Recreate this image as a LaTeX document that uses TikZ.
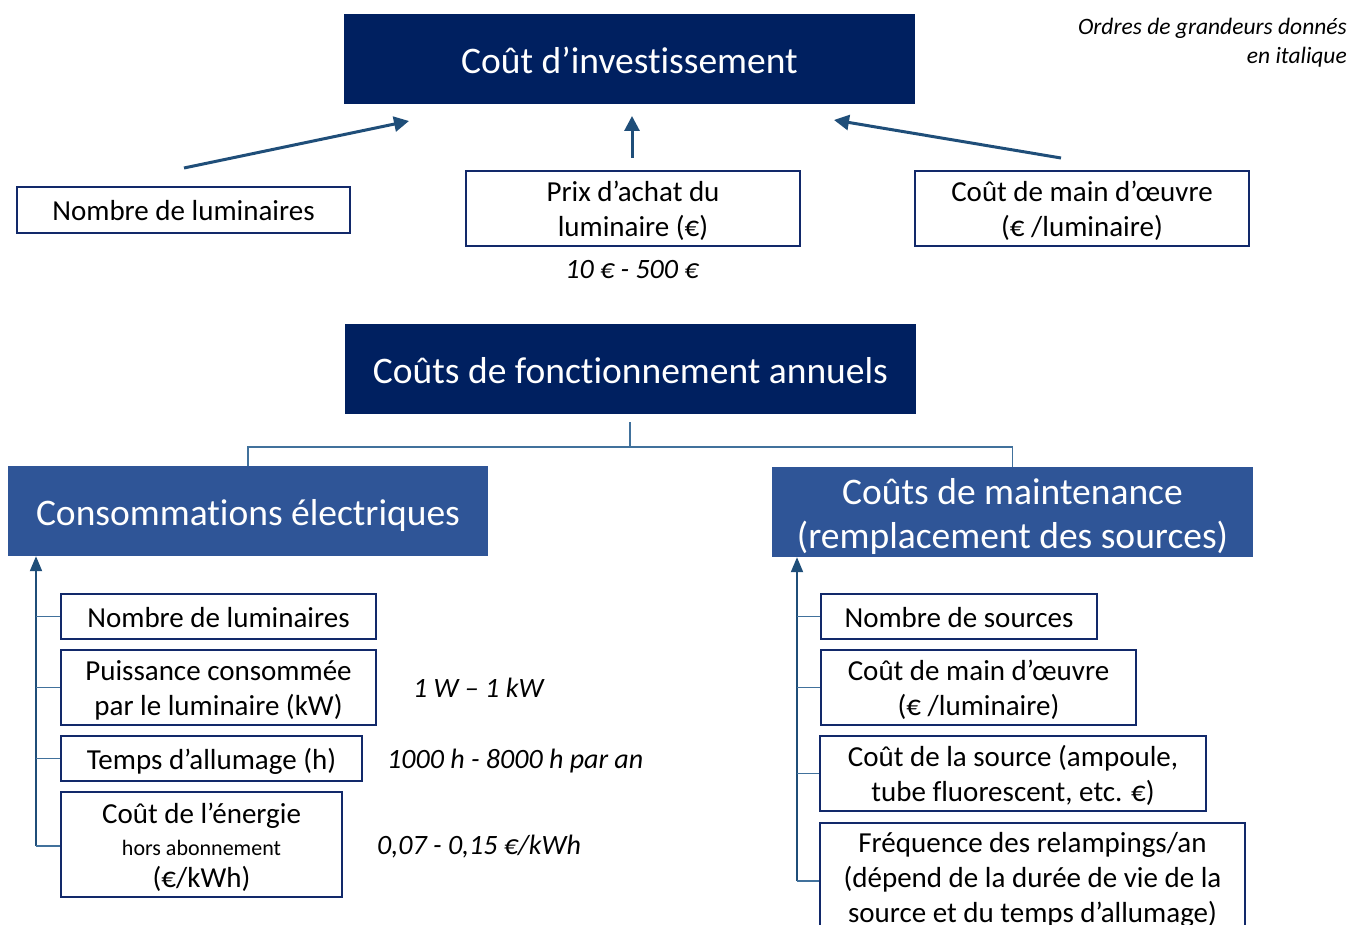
\documentclass[tikz,border=0pt]{standalone}
\usepackage{fontspec}
\setmainfont{Carlito}[Ligatures=NoCommon]
\usetikzlibrary{arrows.meta}
\definecolor{navy}{HTML}{002060}
\definecolor{midblue}{HTML}{2F5597}
\definecolor{arrowblue}{HTML}{1F4E79}
\definecolor{linkblue}{HTML}{41719C}
\definecolor{boxborder}{HTML}{12296A}
\tikzset{
  titlebox/.style={fill=navy, text=white, inner sep=0pt, align=center,
    font=\fontsize{37.5}{45}\selectfont, text height=37pt, text depth=8pt},
  subbox/.style={fill=midblue, text=white, inner sep=0pt, align=center,
    font=\fontsize{37.5}{44}\selectfont, text height=37pt, text depth=8pt},
  twolines/.style={text height=81pt},
  itembox/.style={draw=boxborder, line width=2.6pt, fill=white, inner sep=0pt, align=center,
    font=\fontsize{29}{35}\selectfont, text height=28pt, text depth=7pt},
  lines2/.style={text height=63pt},
  lines3/.style={text height=98pt},
  note/.style={font=\fontsize{28}{32}\selectfont\itshape, inner sep=0pt},
  arr/.style={draw=arrowblue, line width=3pt, -{Triangle[length=15pt,width=15pt]}},
  spine/.style={draw=arrowblue, line width=2pt, -{Triangle[length=15pt,width=12pt]}},
  link/.style={draw=linkblue, line width=1.6pt},
}
\begin{document}
\begin{tikzpicture}[x=1pt,y=-1pt]
\useasboundingbox (0,0) rectangle (1350,925);
\clip (0,0) rectangle (1350,925);
\fill[white] (0,0) rectangle (1350,925);

% notes top right
\node[inner sep=0pt, anchor=base east, align=right, font=\fontsize{23.5}{29}\selectfont\itshape] (legend) at (1347,64) {Ordres de grandeurs donnés\\en italique};

% investment
\node[titlebox, minimum width=571pt, minimum height=90pt] (t1) at (629.5,59) {Coût d’investissement};
\node[itembox, minimum width=333pt, minimum height=46pt] (invN) at (183.5,210) {Nombre de luminaires};
\node[itembox, lines2, minimum width=334pt, minimum height=75pt] (invP) at (633,208.5) {Prix d’achat du\\luminaire (€)};
\node[itembox, lines2, minimum width=334pt, minimum height=75pt] (invM) at (1082,208.5) {Coût de main d’œuvre\\(€ /luminaire)};
\node[note, anchor=base] (vP) at (632,279) {10 € - 500 €};

\coordinate (a1s) at (184,168); \coordinate (a1e) at (409,121);
\coordinate (a2s) at (632,158); \coordinate (a2e) at (632,116);
\coordinate (a3s) at (1061,158); \coordinate (a3e) at (834,120);
\draw[arr] (a1s) -- (a1e);
\draw[arr] (a2s) -- (a2e);
\draw[arr] (a3s) -- (a3e);

% running costs
\node[titlebox, minimum width=571pt, minimum height=90pt] (t2) at (630.5,369) {Coûts de fonctionnement annuels};
\node[subbox, minimum width=480pt, minimum height=90pt] (s1) at (248,511) {Consommations électriques};
\node[subbox, twolines, minimum width=481pt, minimum height=90pt] (s2) at (1012.5,512) {Coûts de maintenance\\(remplacement des sources)};

\coordinate (t2b) at (630,422);
\coordinate (hub) at (630,447);
\draw[link] (t2b) -- (hub);
\draw[link] (s1.north) |- (hub);
\draw[link] (s2.north) |- (hub);

% left column
\node[itembox, minimum width=315pt, minimum height=45pt] (L1) at (218.5,616.5) {Nombre de luminaires};
\node[itembox, lines2, minimum width=315pt, minimum height=75pt] (L2) at (218.5,687.5) {Puissance consommée\\par le luminaire (kW)};
\node[itembox, minimum width=301pt, minimum height=45pt] (L3) at (211.5,758.5) {Temps d’allumage (h)};
\node[itembox, minimum width=281pt, minimum height=105pt, font=\fontsize{29}{32}\selectfont, text height=92pt] (L4) at (201.5,844.5) {Coût de l’énergie\\{\fontsize{22}{26}\selectfont hors abonnement}\\(€/kWh)};

\node[note, anchor=base west] (v2) at (413,697) {1 W – 1 kW};
\node[note, anchor=base west] (v3) at (387,768) {1000 h - 8000 h par an};
\node[note, anchor=base west] (v4) at (377,854) {0,07 - 0,15 €/kWh};

\coordinate (ls) at (36,846);
\draw[spine] (ls) -- (ls |- s1.south);
\draw[link] (L1.west) -- (L1.west -| ls);
\draw[link] (L2.west) -- (L2.west -| ls);
\draw[link] (L3.west) -- (L3.west -| ls);
\draw[link] (L4.west |- ls) -- (ls);

% right column
\node[itembox, minimum width=276pt, minimum height=45pt] (R1) at (959,616.5) {Nombre de sources};
\node[itembox, lines2, minimum width=315pt, minimum height=75pt] (R2) at (978.5,687.5) {Coût de main d’œuvre\\(€ /luminaire)};
\node[itembox, lines2, minimum width=386pt, minimum height=75pt] (R3) at (1013,773.5) {Coût de la source (ampoule,\\tube fluorescent, etc. €)};
\node[itembox, lines3, minimum width=425pt, minimum height=108pt] (R4) at (1032.5,877) {Fréquence des relampings/an\\(dépend de la durée de vie de la\\source et du temps d’allumage)};

\coordinate (rs) at (797,881);
\draw[spine] (rs) -- (rs |- s2.south);
\draw[link] (R1.west) -- (R1.west -| rs);
\draw[link] (R2.west) -- (R2.west -| rs);
\draw[link] (R3.west) -- (R3.west -| rs);
\draw[link] (R4.west |- rs) -- (rs);
\end{tikzpicture}
\end{document}
